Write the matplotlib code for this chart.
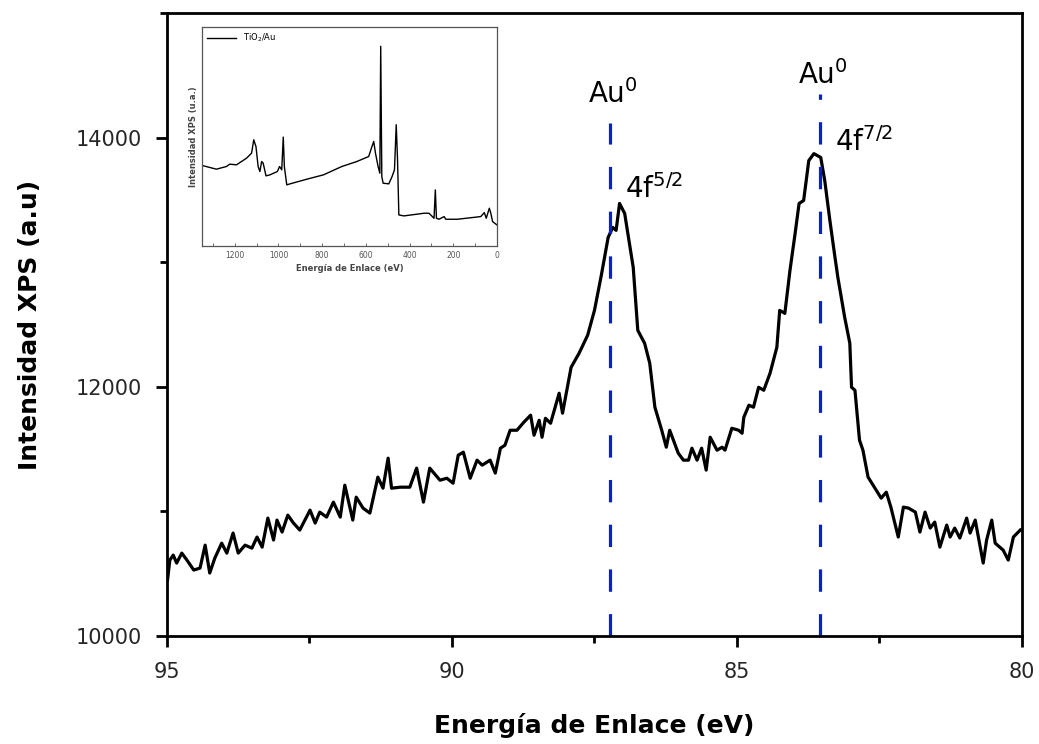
import matplotlib
matplotlib.use("Agg")
import matplotlib.pyplot as plt
from matplotlib.ticker import MultipleLocator, NullLocator

plt.rcParams["font.family"] = ["DejaVu Sans"]
plt.rcParams["mathtext.fontset"] = "dejavusans"

# Au 4f region (binding energy eV, counts)
energy = [94.99, 94.95, 94.89, 94.83, 94.74, 94.65, 94.53, 94.42, 94.33, 94.25,
          94.16, 94.04, 93.95, 93.84, 93.75, 93.63, 93.51, 93.42, 93.33, 93.23,
          93.13, 93.07, 92.98, 92.88, 92.78, 92.67, 92.49, 92.40, 92.32, 92.20,
          92.08, 91.96, 91.88, 91.74, 91.68, 91.56, 91.44, 91.30, 91.21, 91.12,
          91.06, 90.91, 90.74, 90.62, 90.50, 90.39, 90.21, 90.09, 89.98, 89.89,
          89.80, 89.68, 89.56, 89.47, 89.33, 89.24, 89.15, 89.07, 88.98, 88.86,
          88.74, 88.62, 88.56, 88.47, 88.42, 88.36, 88.27, 88.12, 88.06, 87.91,
          87.77, 87.62, 87.50, 87.38, 87.26, 87.18, 87.12, 87.06, 86.97, 86.82,
          86.74, 86.62, 86.53, 86.44, 86.32, 86.24, 86.18, 86.03, 85.94, 85.85,
          85.79, 85.70, 85.62, 85.54, 85.47, 85.35, 85.26, 85.21, 85.09, 84.97,
          84.91, 84.88, 84.79, 84.71, 84.62, 84.53, 84.42, 84.30, 84.25, 84.16,
          84.07, 83.98, 83.91, 83.83, 83.74, 83.65, 83.53, 83.46, 83.37, 83.29,
          83.23, 83.11, 83.02, 82.99, 82.93, 82.85, 82.79, 82.70, 82.59, 82.47,
          82.38, 82.30, 82.17, 82.08, 81.99, 81.87, 81.79, 81.70, 81.61, 81.53,
          81.44, 81.32, 81.26, 81.18, 81.09, 80.97, 80.91, 80.82, 80.68, 80.62,
          80.53, 80.47, 80.33, 80.24, 80.15, 80.03]
intensity = [10449, 10609, 10649, 10585, 10665, 10609, 10529, 10545, 10729, 10505,
             10625, 10745, 10665, 10826, 10665, 10729, 10705, 10794, 10713, 10946,
             10770, 10930, 10834, 10970, 10906, 10850, 11010, 10906, 10994, 10954,
             11074, 10954, 11210, 10930, 11114, 11026, 10986, 11275, 11186, 11427,
             11186, 11194, 11194, 11347, 11074, 11347, 11250, 11266, 11226, 11451,
             11475, 11266, 11411, 11371, 11411, 11307, 11507, 11531, 11651, 11651,
             11715, 11772, 11611, 11731, 11595, 11747, 11707, 11948, 11788, 12156,
             12269, 12413, 12613, 12894, 13198, 13279, 13255, 13471, 13391, 12958,
             12453, 12349, 12188, 11836, 11651, 11515, 11651, 11467, 11411, 11411,
             11507, 11411, 11507, 11331, 11595, 11491, 11515, 11491, 11667, 11651,
             11627, 11755, 11852, 11836, 11996, 11972, 12108, 12317, 12613, 12589,
             12934, 13230, 13471, 13495, 13815, 13871, 13840, 13655, 13335, 13070,
             12878, 12557, 12349, 11996, 11972, 11571, 11491, 11275, 11194, 11106,
             11154, 11034, 10794, 11034, 11026, 10994, 10834, 10994, 10866, 10914,
             10713, 10890, 10794, 10866, 10786, 10946, 10826, 10930, 10585, 10770,
             10930, 10745, 10689, 10609, 10794, 10850]

peak_pos = [87.23, 83.54]
peak_top = [14120, 14350]
label_au_y = [14281, 14433]
label_4f = ["4f$^{5/2}$", "4f$^{7/2}$"]
label_4f_x = [86.96, 83.28]
label_4f_y = [13511, 13896]

# survey spectrum for the inset (arbitrary units)
survey_e = [1349, 1284, 1238, 1223, 1192, 1146, 1123, 1113, 1103, 1093,
            1085, 1077, 1070, 1057, 1039, 1005, 995, 985, 978, 973,
            962, 947, 870, 794, 710, 641, 587, 572, 564, 556,
            544, 536, 532, 527, 521, 495, 480, 469, 461, 455,
            449, 426, 334, 311, 288, 282, 277, 265, 242, 234,
            181, 74, 58, 49, 35, 28, 20, 0]
survey_i = [241, 230, 238, 245, 243, 263, 278, 318, 298, 238,
            223, 253, 248, 210, 213, 223, 238, 228, 326, 238,
            183, 186, 200, 213, 238, 253, 268, 298, 313, 278,
            238, 218, 598, 208, 188, 186, 208, 228, 363, 258,
            93, 90, 98, 98, 83, 168, 83, 80, 88, 80,
            80, 88, 100, 83, 113, 98, 73, 63]

fig = plt.figure(figsize=(10.39, 7.44), dpi=100)
ax = fig.add_axes([0.1607, 0.1452, 0.8229, 0.8374])

ax.plot(energy, intensity, color="black", lw=2.3)
for x, top in zip(peak_pos, peak_top):
    ax.plot([x, x], [10000, top], color="#0b1fd0", lw=2.3,
            linestyle=(0, (7.0, 7.0)))

for x, y in zip(peak_pos, label_au_y):
    ax.text(x - 0.05, y, "Au$^0$", fontsize=20, ha="center", va="baseline")
for x, y, s in zip(label_4f_x, label_4f_y, label_4f):
    ax.text(x, y, s, fontsize=20, ha="left", va="baseline")

ax.set_xlim(95, 80)
ax.set_ylim(10000, 15000)
ax.xaxis.set_major_locator(MultipleLocator(5))
ax.xaxis.set_minor_locator(MultipleLocator(2.5))
ax.yaxis.set_major_locator(MultipleLocator(2000))
ax.yaxis.set_minor_locator(MultipleLocator(1000))
ax.tick_params(which="major", direction="out", length=8, width=2,
               labelsize=15, labelcolor="#262626")
ax.tick_params(which="minor", direction="out", length=5, width=2)
ax.tick_params(axis="x", pad=11)
ax.tick_params(axis="y", pad=10)
for s in ax.spines.values():
    s.set_linewidth(2)
ax.set_xlabel("Energía de Enlace (eV)", fontsize=18, fontweight="bold", labelpad=22)
ax.set_ylabel("Intensidad XPS (a.u)", fontsize=18, fontweight="bold", labelpad=24)

# inset
axi = fig.add_axes([0.1944, 0.6694, 0.2839, 0.2944])
axi.plot(survey_e, survey_i, color="black", lw=1.0, label="TiO$_2$/Au")
axi.set_xlim(1350, 0)
axi.set_ylim(0, 656)
axi.xaxis.set_major_locator(MultipleLocator(200))
axi.xaxis.set_minor_locator(MultipleLocator(100))
axi.yaxis.set_major_locator(NullLocator())
axi.tick_params(which="both", direction="in", length=2, width=0.6,
                labelsize=5.5, labelcolor="#555555", color="#555555")
for s in axi.spines.values():
    s.set_linewidth(0.9)
    s.set_color("#555555")
axi.set_xlabel("Energía de Enlace (eV)", fontsize=6, fontweight="bold",
               color="#444444", labelpad=3)
axi.set_ylabel("Intensidad XPS (u.a.)", fontsize=6, fontweight="bold",
               color="#444444", labelpad=3)
axi.legend(loc="upper left", frameon=False, fontsize=6, handlelength=3.5,
           borderaxespad=0.2)

fig.savefig("out.png", dpi=100)
